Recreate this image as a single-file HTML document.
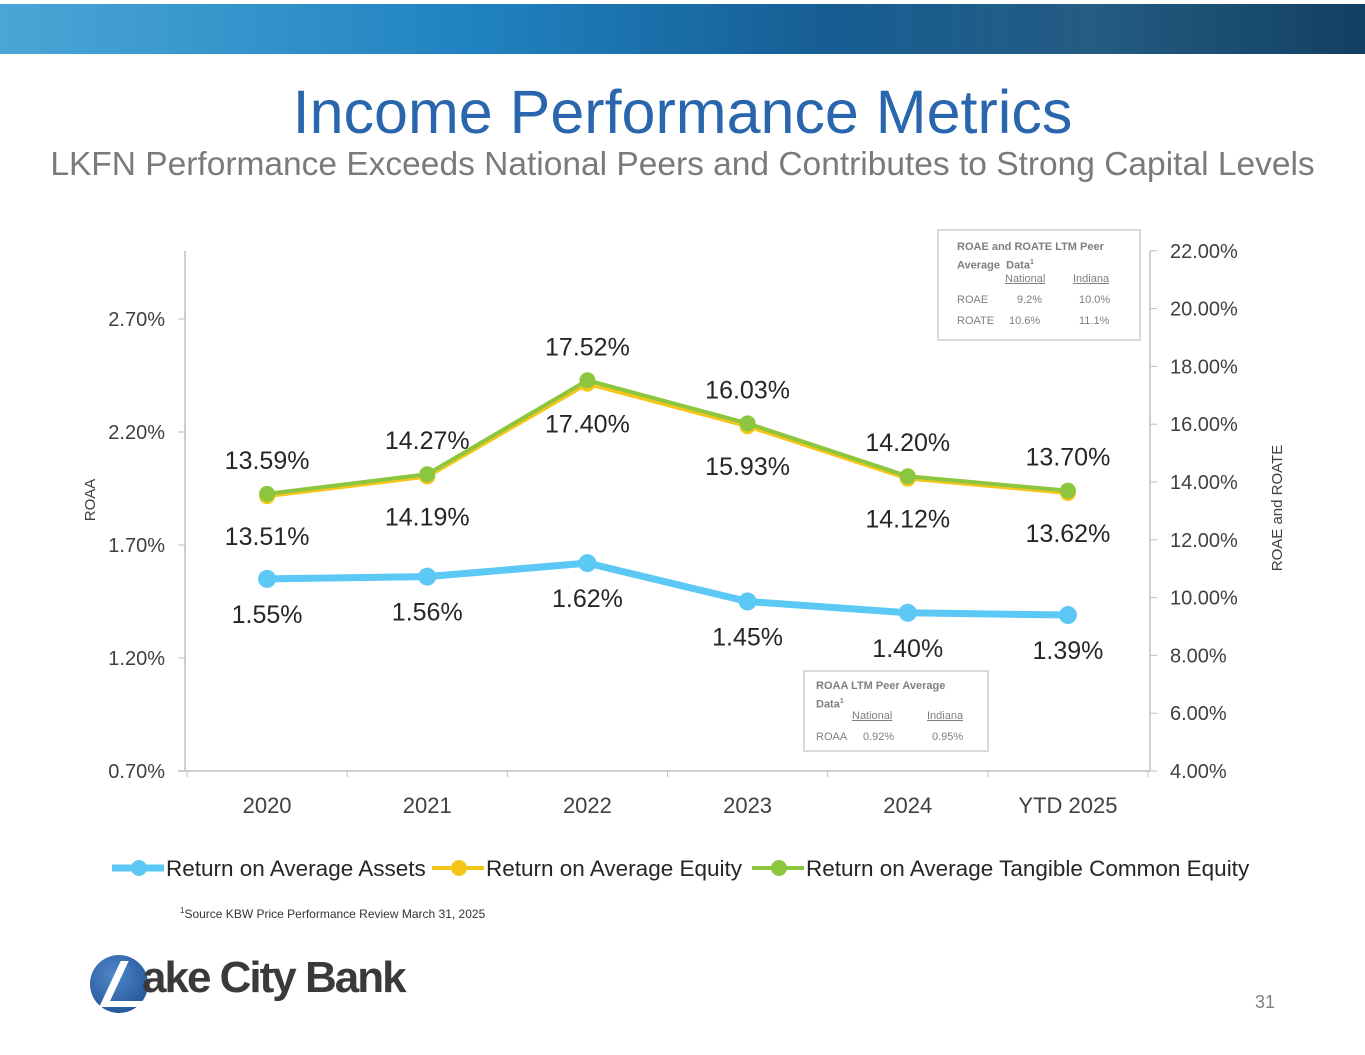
<!DOCTYPE html>
<html><head><meta charset="utf-8"><style>
body{margin:0;width:1365px;height:1055px;background:#fff;font-family:"Liberation Sans",sans-serif;overflow:hidden;position:relative}
.banner{position:absolute;left:0;top:4px;width:1365px;height:50px;background:linear-gradient(90deg,#4aa6d6 0%,#1f82c0 35%,#175e95 60%,#245c82 80%,#123f63 100%)}
.title{position:absolute;top:77px;width:1365px;text-align:center;font-size:61px;color:#2a66ad}
.sub{position:absolute;top:146px;width:1365px;text-align:center;font-size:33.5px;color:#7a7a7a}
.box{position:absolute;background:#fff;border:2px solid #d9d9d9;font-size:11px;color:#7f7f7f}
</style></head><body>
<div class="banner"></div>
<div class="title">Income Performance Metrics</div>
<div class="sub">LKFN Performance Exceeds National Peers and Contributes to Strong Capital Levels</div>
<svg id="chart" width="1365" height="1055" style="position:absolute;left:0;top:0"></svg>
<div class="box" style="left:937px;top:229px;width:200px;height:108px">
<div style="position:absolute;left:18px;top:9px;font-weight:bold;line-height:15px">ROAE and ROATE LTM Peer<br>Average &nbsp;Data<sup style="font-size:7px">1</sup></div>
<div style="position:absolute;left:66px;top:42px;text-decoration:underline">National</div>
<div style="position:absolute;left:134px;top:42px;text-decoration:underline">Indiana</div>
<div style="position:absolute;left:18px;top:63px">ROAE</div><div style="position:absolute;left:78px;top:63px">9.2%</div><div style="position:absolute;left:140px;top:63px">10.0%</div>
<div style="position:absolute;left:18px;top:84px">ROATE</div><div style="position:absolute;left:70px;top:84px">10.6%</div><div style="position:absolute;left:140px;top:84px">11.1%</div>
</div>
<div class="box" style="left:803px;top:670px;width:182px;height:78px">
<div style="position:absolute;left:11px;top:7px;font-weight:bold;line-height:15px">ROAA LTM Peer Average<br>Data<sup style="font-size:7px">1</sup></div>
<div style="position:absolute;left:47px;top:38px;text-decoration:underline">National</div>
<div style="position:absolute;left:122px;top:38px;text-decoration:underline">Indiana</div>
<div style="position:absolute;left:11px;top:59px">ROAA</div><div style="position:absolute;left:58px;top:59px">0.92%</div><div style="position:absolute;left:127px;top:59px">0.95%</div>
</div>
<div style="position:absolute;left:180px;top:906px;font-size:12px;color:#333"><sup style="font-size:8px">1</sup>Source KBW Price Performance Review March 31, 2025</div>
<div style="position:absolute;left:88px;top:955px;width:330px;height:60px">
<div style="position:absolute;left:2px;top:0px;width:58px;height:58px;border-radius:50%;background:radial-gradient(circle at 40% 35%,#4f86c8,#1a4a8c)"></div>
<div style="position:absolute;left:22px;top:6px;width:8px;height:46px;background:#fff;transform:skewX(-25deg)"></div>
<div style="position:absolute;left:14px;top:46px;width:46px;height:6px;background:#fff"></div>
<div style="position:absolute;left:54px;top:-2px;font-size:44px;font-weight:bold;color:#3a3a3a;letter-spacing:-2px">ake City Bank</div>
</div>
<div style="position:absolute;left:1255px;top:992px;font-size:18px;color:#7f7f7f">31</div>
<script>
const categories=["2020","2021","2022","2023","2024","YTD 2025"];
const roaa=[1.55,1.56,1.62,1.45,1.40,1.39];
const roae=[13.51,14.19,17.40,15.93,14.12,13.62];
const roate=[13.59,14.27,17.52,16.03,14.20,13.70];
const leftTicks=[0.70,1.20,1.70,2.20,2.70];
const rightTicks=[4,6,8,10,12,14,16,18,20,22];
const NS="http://www.w3.org/2000/svg",svg=document.getElementById('chart');
const xL=187,xR=1148,bw=(xR-xL)/categories.length;
const x=i=>xL+bw*(i+0.5);
const yL=v=>771-(v-0.70)/0.5*113;
const yR=v=>771-(v-4)/2*57.8;
function mk(t,a,txt){const e=document.createElementNS(NS,t);for(const k in a)e.setAttribute(k,a[k]);if(txt!=null)e.textContent=txt;svg.appendChild(e);return e;}
let e;
e=mk('line',{x1:185,y1:251,x2:185,y2:771,stroke:'#bfbfbf','stroke-width':1.5});
e=mk('line',{x1:1150,y1:251,x2:1150,y2:771,stroke:'#bfbfbf','stroke-width':1.5});
e=mk('line',{x1:178,y1:771,x2:1150,y2:771,stroke:'#bfbfbf','stroke-width':1.5});
leftTicks.forEach(v=>{mk('line',{x1:178,y1:yL(v),x2:185,y2:yL(v),stroke:'#bfbfbf'});
e=mk('text',{x:165,y:yL(v)+7,'text-anchor':'end','font-size':20,fill:'#404040'},v.toFixed(2)+'%');});
rightTicks.forEach(v=>{mk('line',{x1:1150,y1:yR(v),x2:1157,y2:yR(v),stroke:'#bfbfbf'});
e=mk('text',{x:1170,y:yR(v)+7,'font-size':20,fill:'#404040'},v.toFixed(2)+'%');});
for(let i=0;i<=categories.length;i++)mk('line',{x1:xL+bw*i,y1:771,x2:xL+bw*i,y2:777,stroke:'#bfbfbf'});
categories.forEach((c,i)=>{e=mk('text',{x:x(i),y:813,'text-anchor':'middle','font-size':22,fill:'#404040'},c);});
e=mk('text',{x:0,y:0,transform:'translate(95,500) rotate(-90)','text-anchor':'middle','font-size':15,fill:'#404040'},'ROAA');
e=mk('text',{x:0,y:0,transform:'translate(1282,508) rotate(-90)','text-anchor':'middle','font-size':15,fill:'#404040'},'ROAE and ROATE');
function series(vals,f,col,w,r,name){
 e=mk('polyline',{points:vals.map((v,i)=>x(i)+','+f(v)).join(' '),fill:'none',stroke:col,'stroke-width':w});
 vals.forEach((v,i)=>{e=mk('circle',{cx:x(i),cy:f(v),r:r,fill:col});});}
series(roaa,yL,'#5bc8f5',7,9,'roaa');
series(roae,yR,'#f5c518',4,8,'roae');
series(roate,yR,'#8cc63f',4,8,'roate');
const lab=(t,xx,yy,n)=>{e=mk('text',{x:xx,y:yy,'text-anchor':'middle','font-size':25,fill:'#262626'},t);};
roaa.forEach((v,i)=>lab(v.toFixed(2)+'%',x(i),yL(v)+44,'roaa-label'));
roae.forEach((v,i)=>lab(v.toFixed(2)+'%',x(i),yR(v)+49,'roae-label'));
roate.forEach((v,i)=>lab(v.toFixed(2)+'%',x(i),yR(v)-25,'roate-label'));
const leg=[['#5bc8f5','Return on Average Assets',112],['#f5c518','Return on Average Equity',432],['#8cc63f','Return on Average Tangible Common Equity',752]];
leg.forEach(([c,t,lx])=>{mk('line',{x1:lx,y1:868,x2:lx+52,y2:868,stroke:c,'stroke-width':c=='#5bc8f5'?7:4});mk('circle',{cx:lx+27,cy:868,r:8,fill:c});
e=mk('text',{x:lx+54,y:876,'font-size':22.5,fill:'#262626'},t);});
</script>
</body></html>
